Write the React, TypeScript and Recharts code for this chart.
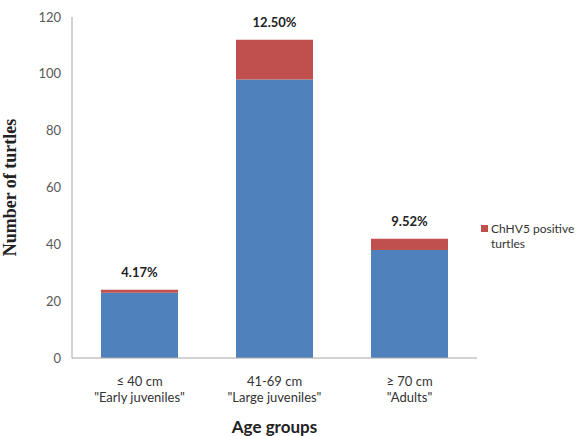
import { Bar, BarChart, LabelList, Legend, XAxis, YAxis } from "recharts";

const sizeLabels = ["≤ 40 cm", "41-69 cm", "≥ 70 cm"];
const groupNames = ["\"Early juveniles\"", "\"Large juveniles\"", "\"Adults\""];
const negativeCounts = [23, 98, 38];
const positiveCounts = [1, 14, 4];
const positivePct = ["4.17%", "12.50%", "9.52%"];
const yTicks = [0, 20, 40, 60, 80, 100, 120];

const data = sizeLabels.map((size, i) => ({
  size,
  group: groupNames[i],
  negative: negativeCounts[i],
  positive: positiveCounts[i],
  pct: positivePct[i],
}));

const FONT = "Lato, 'Open Sans', sans-serif";

function GroupTick(props: any) {
  const { x, y, index } = props;
  return (
    <g>
      <text x={x} y={y + 28} textAnchor="middle" fontSize={13} fill="#333" fontFamily={FONT}>
        {sizeLabels[index]}
      </text>
      <text x={x} y={y + 44} textAnchor="middle" fontSize={13} fill="#333" fontFamily={FONT}>
        {groupNames[index]}
      </text>
    </g>
  );
}

function PctLabel(props: any) {
  const { x, y, width, value } = props;
  return (
    <text x={x + width / 2} y={y - 13} textAnchor="middle" fontSize={13} fontWeight="bold" fill="#222" fontFamily={FONT}>
      {value}
    </text>
  );
}

function LegendBox() {
  return (
    <div style={{ display: "flex", alignItems: "flex-start", fontFamily: FONT, fontSize: 12, color: "#333", lineHeight: "15px", whiteSpace: "nowrap" }}>
      <span style={{ width: 7, height: 7, background: "#C0504D", marginTop: 4, marginRight: 3, flexShrink: 0 }} />
      <span>
        ChHV5 positive
        <br />
        turtles
      </span>
    </div>
  );
}

export default function App() {
  return (
    <div style={{ position: "absolute", left: 0, top: 0, width: 578, height: 436, background: "#fff" }}>
      <BarChart width={578} height={436} data={data} margin={{ top: 17, right: 101, bottom: 0, left: 0 }}>
        <XAxis
          dataKey="size"
          height={78}
          tickLine={false}
          tickSize={0}
          tickMargin={0}
          stroke="#a6a6a6"
          tick={<GroupTick />}
          interval={0}
          label={{ value: "Age groups", position: "insideBottom", offset: 3, style: { fontFamily: FONT, fontSize: 17, fontWeight: "bold", fill: "#222" } }}
        />
        <YAxis
          width={72}
          domain={[0, 120]}
          ticks={yTicks}
          tickLine={false}
          tickSize={0}
          tickMargin={11}
          stroke="#a6a6a6"
          tick={{ fontSize: 13, fill: "#595959", fontFamily: FONT }}
          label={{
            value: "Number of turtles",
            angle: -90,
            position: "insideLeft",
            offset: 10,
            style: { fontFamily: "'Liberation Serif', 'DejaVu Serif', serif", fontSize: 18, fontWeight: "bold", fill: "#222", textAnchor: "middle" },
          }}
        />
        <Legend
          layout="vertical"
          align="center"
          verticalAlign="middle"
          content={<LegendBox />}
          wrapperStyle={{ left: 481, top: 221, width: 97 }}
        />
        <Bar dataKey="negative" stackId="a" fill="#4F81BD" barSize={77} isAnimationActive={false} />
        <Bar dataKey="positive" stackId="a" fill="#C0504D" barSize={77} isAnimationActive={false}>
          <LabelList dataKey="pct" content={<PctLabel />} />
        </Bar>
      </BarChart>
    </div>
  );
}
